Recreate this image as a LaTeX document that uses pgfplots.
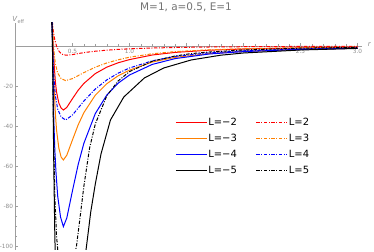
\documentclass[border=0pt]{standalone}
\usepackage{fontspec}
\setmainfont{DejaVu Sans}
\usepackage{pgfplots}
\pgfplotsset{compat=1.18}
\definecolor{mmaorange}{rgb}{1,0.5,0}
\definecolor{axgray}{gray}{0.62}
\definecolor{labgray}{gray}{0.55}
\definecolor{titgray}{gray}{0.45}
\tikzset{mmadd/.style={dash pattern=on 3.5bp off 1.5bp on 1bp off 1.5bp}}
\begin{document}
\begin{tikzpicture}
\begin{axis}[
  x=114bp, y=2bp,
  axis lines=middle,
  axis line style={axgray, line width=0.4pt, -},
  every inner x axis line/.append style={-},
  every inner y axis line/.append style={-},
  xmin=0, xmax=3.04, ymin=-102, ymax=11.5,
  xtick={0.5,1,1.5,2,2.5,3},
  xticklabels={0.5,1.0,,2.0,2.5,3.0},
  minor x tick num=4,
  ytick={-100,-80,-60,-40,-20},
  yticklabels={-100,-80,-60,-40,-20},
  minor y tick num=3,
  tick style={axgray, line width=0.4pt},
  major tick length=3bp, minor tick length=1.8bp,
  tick align=inside,
  ticklabel style={font=\fontsize{5.8}{6.5}\selectfont, text=labgray},
  yticklabel style={xshift=1bp},
  no marks,
  every axis plot/.append style={line width=1pt},
  legend columns=2,
  legend cell align=left,
  legend style={draw=none, fill=none, at={(axis cs:1.40,-35.5)}, anchor=north west,
    font=\fontsize{10}{12}\selectfont, inner sep=0pt, row sep=4.3bp,
    /tikz/every even column/.append style={column sep=18bp},
    nodes={inner sep=1bp, text height=7.5bp, text depth=2bp}},
  legend image code/.code={\draw[#1] (0bp,0bp) -- (31bp,0bp);},
]
\coordinate (O) at (axis cs:0,0);
% L=-2
\addplot[red] coordinates {(0.318,16) (0.325,8) (0.332,-2) (0.34,-10) (0.35,-18) (0.36,-23) (0.38,-28.5) (0.40,-31) (0.42,-32) (0.45,-30.7) (0.5,-26.3) (0.55,-22.1) (0.6,-18.7) (0.7,-13.8) (0.8,-10.6) (0.9,-8.4) (1.0,-6.8) (1.2,-4.5) (1.4,-3.2) (1.7,-2.1) (2.0,-1.5) (2.5,-0.95) (3.0,-0.65)};
\addlegendentry{L=−2}
% L=2
\addplot[red, mmadd] coordinates {(0.318,16) (0.33,8) (0.345,3) (0.36,0) (0.38,-2.5) (0.40,-3.8) (0.42,-4.4) (0.45,-4.6) (0.5,-4.3) (0.55,-3.8) (0.6,-3.3) (0.7,-2.6) (0.8,-2.1) (0.9,-1.7) (1.0,-1.4) (1.2,-1.0) (1.4,-0.75) (1.7,-0.5) (2.0,-0.36) (2.5,-0.22) (3.0,-0.15)};
\addlegendentry{L=2}
% L=-3
\addplot[mmaorange] coordinates {(0.318,16) (0.325,6) (0.332,-8) (0.34,-22) (0.35,-34) (0.36,-42) (0.38,-51) (0.40,-55.5) (0.42,-57) (0.45,-54.6) (0.5,-46.9) (0.55,-39.4) (0.6,-33.3) (0.7,-24.6) (0.8,-18.9) (0.9,-14.9) (1.0,-12.1) (1.2,-8.0) (1.4,-5.7) (1.7,-3.8) (2.0,-2.7) (2.5,-1.7) (3.0,-1.15)};
\addlegendentry{L=−3}
% L=3
\addplot[mmaorange, mmadd] coordinates {(0.318,16) (0.33,4) (0.34,-4) (0.35,-9) (0.37,-13.5) (0.40,-16.3) (0.44,-17.3) (0.5,-16.3) (0.55,-14.8) (0.6,-13.3) (0.7,-10.6) (0.8,-8.5) (0.9,-6.9) (1.0,-5.6) (1.2,-3.9) (1.4,-2.8) (1.7,-1.9) (2.0,-1.35) (2.5,-0.85) (3.0,-0.6)};
\addlegendentry{L=3}
% L=-4
\addplot[blue] coordinates {(0.318,16) (0.324,4) (0.33,-15) (0.336,-37) (0.345,-52) (0.355,-63) (0.37,-75) (0.395,-85.5) (0.42,-90.3) (0.45,-86) (0.5,-72.3) (0.55,-59.2) (0.6,-48.6) (0.7,-33.8) (0.8,-24.6) (0.9,-18.6) (1.0,-14.5) (1.2,-9.2) (1.4,-6.3) (1.7,-4.0) (2.0,-2.8) (2.5,-1.7) (3.0,-1.15)};
\addlegendentry{L=−4}
% L=4
\addplot[blue, mmadd] coordinates {(0.318,16) (0.328,-2) (0.335,-14) (0.35,-25) (0.37,-31.5) (0.40,-35.5) (0.44,-37) (0.5,-34.5) (0.55,-31) (0.6,-27.5) (0.7,-21.5) (0.8,-17) (0.9,-13.6) (1.0,-11) (1.2,-7.4) (1.4,-5.2) (1.7,-3.4) (2.0,-2.4) (2.5,-1.45) (3.0,-0.95)};
\addlegendentry{L=4}
% L=-5
\addplot[black] coordinates {(0.318,16) (0.324,0) (0.33,-30) (0.336,-60) (0.345,-95) (0.36,-130) (0.40,-155) (0.45,-158) (0.5,-150) (0.55,-131) (0.6,-110) (0.623,-100) (0.66,-83) (0.7,-69) (0.75,-54) (0.833,-37) (0.95,-25.5) (1.13,-16) (1.3,-11) (1.54,-7) (1.8,-4.6) (2.0,-3.5) (2.5,-2.0) (3.0,-1.2)};
\addlegendentry{L=−5}
% L=5
\addplot[black, mmadd] coordinates {(0.318,16) (0.324,2) (0.33,-25) (0.336,-50) (0.345,-75) (0.36,-95) (0.38,-108) (0.42,-118) (0.47,-115) (0.5,-110) (0.535,-100) (0.57,-84) (0.6,-70) (0.65,-51) (0.7,-39) (0.8,-25) (0.9,-17.5) (1.0,-12.8) (1.2,-7.6) (1.4,-5) (1.54,-3.8) (1.7,-3) (2.0,-2) (2.5,-1.1) (3.0,-0.7)};
\addlegendentry{L=5}
\end{axis}
\path (O) ++(170.5bp,39bp) node[text=titgray, font=\fontsize{10.5}{12}\selectfont] {M=1, a=0.5, E=1};
\path (O) ++(3bp,26bp) node[text=labgray, font=\fontsize{7}{8}\selectfont] {\textit{V}\textsubscript{eff}};
\path (O) ++(354bp,1.5bp) node[text=labgray, font=\fontsize{7}{8}\selectfont] {\textit{r}};
\pgfresetboundingbox
\path (O) ++(-15.5bp,-206bp) rectangle ++(374bp,252bp);
\end{tikzpicture}
\end{document}
